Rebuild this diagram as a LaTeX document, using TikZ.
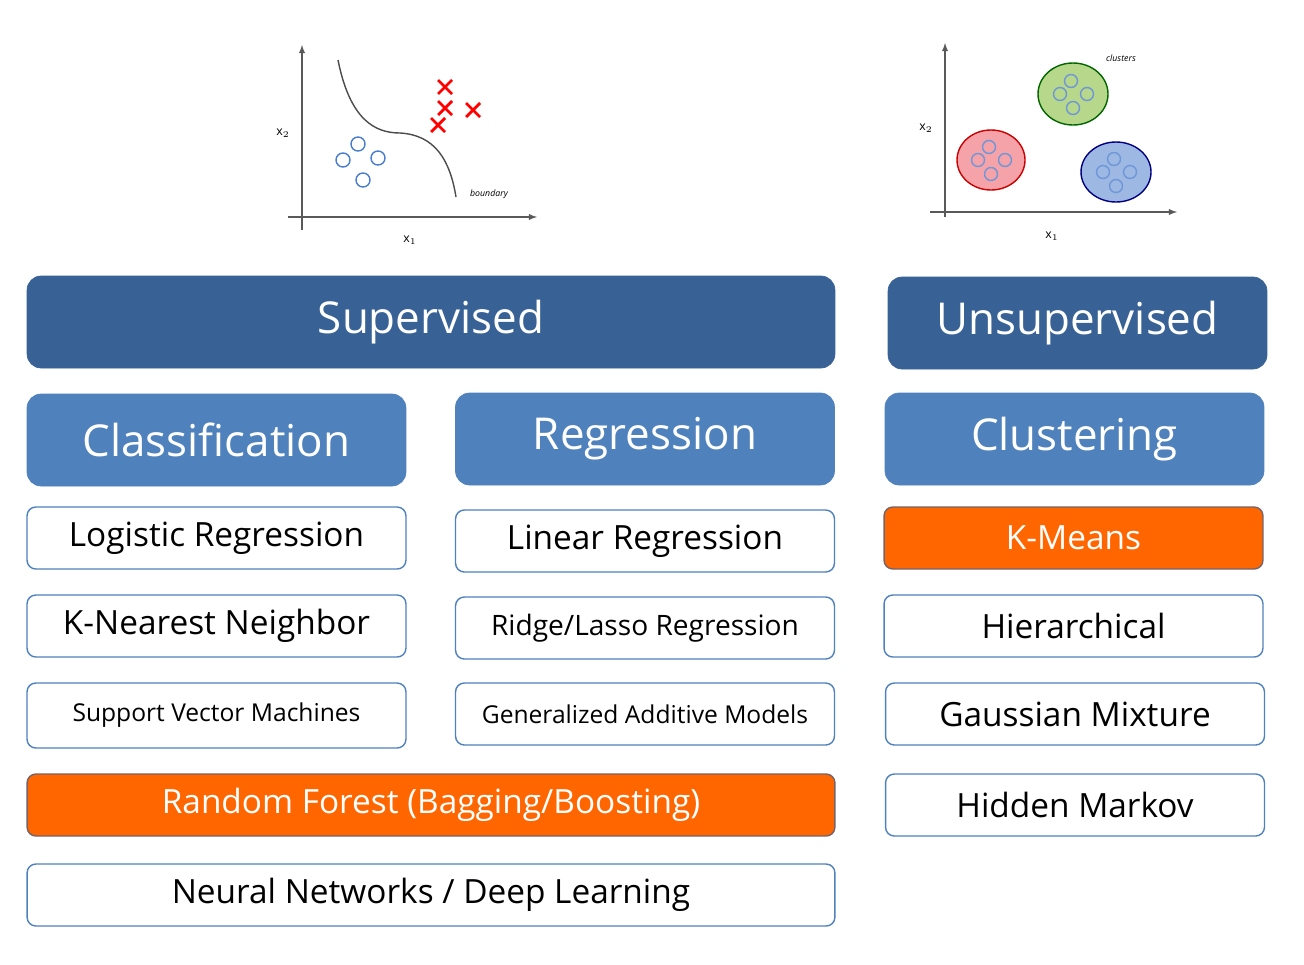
\documentclass[tikz,border=0pt]{standalone}
\usepackage{fontspec}
\setmainfont{Open Sans}
\definecolor{darkhead}{HTML}{386195}
\definecolor{subhead}{HTML}{4F81BD}
\definecolor{hilite}{HTML}{FF6600}
\definecolor{ptblue}{HTML}{4A7CD0}
\definecolor{clgreen}{HTML}{B7D88A}
\definecolor{clred}{HTML}{F5A3A8}
\definecolor{clblue}{HTML}{9DB8E3}
\tikzset{
  head/.style={draw=darkhead, fill=darkhead, rounded corners=8pt, text=white,
    font=\fontsize{25}{30}\selectfont, minimum height=1.84cm, inner sep=0pt},
  sub/.style={draw=subhead, fill=subhead, rounded corners=8pt, text=white,
    font=\fontsize{25}{30}\selectfont, minimum height=1.84cm, inner sep=0pt},
  item/.style={draw=subhead, fill=white, rounded corners=5pt, line width=0.8pt,
    font=\fontsize{19}{22}\selectfont, minimum height=1.24cm, inner sep=0pt},
  hot/.style={item, draw=darkhead!70!hilite, fill=hilite, text=white},
  narrow/.style={minimum width=7.58cm},
  wide/.style={minimum width=16.16cm},
  pt/.style={draw=ptblue, line width=0.8pt},
  axis/.style={draw=gray!70!black, line width=0.6pt, -latex},
}
\begin{document}
\begin{tikzpicture}[x=0.02cm,y=-0.02cm]
\useasboundingbox (0,0) rectangle (1304,964);
% headers
\node[head, minimum width=16.16cm] (sup) at (431,322) {Supervised};
\node[head, minimum width=7.58cm] (unsup) at (1077.5,323) {Unsupervised};
\node[sub, narrow] (cls) at (216.5,440) {Classification};
\node[sub, narrow] (reg) at (645,439) {Regression};
\node[sub, narrow] (clu) at (1074.5,439) {Clustering};
% classification column
\node[item, narrow] (logit) at (216.5,538) {Logistic Regression};
\node[item, narrow] (knn) at (216.5,626) {K-Nearest Neighbor};
\node[item, narrow, minimum height=1.3cm, font=\fontsize{14}{17}\selectfont] (svm) at (216.5,715.5) {Support Vector Machines};
% regression column
\node[item, narrow] (lin) at (645,541) {Linear Regression};
\node[item, narrow, font=\fontsize{16}{19}\selectfont] (ridge) at (645,628) {Ridge/Lasso Regression};
\node[item, narrow, font=\fontsize{14}{17}\selectfont] (gam) at (645,714) {Generalized Additive Models};
% spanning rows
\node[hot, wide] (rf) at (431,805) {Random Forest (Bagging/Boosting)};
\node[item, wide] (nn) at (431,895) {Neural Networks / Deep Learning};
% clustering column
\node[hot, narrow] (kmeans) at (1073.5,538) {K-Means};
\node[item, narrow] (hier) at (1073.5,626) {Hierarchical};
\node[item, narrow] (gmm) at (1075,714) {Gaussian Mixture};
\node[item, narrow] (hmm) at (1075,805) {Hidden Markov};
% classification sketch
\coordinate (cyb) at (302,230); \coordinate (cyt) at (302,45);
\coordinate (cxl) at (288,217); \coordinate (cxr) at (537,217);
\draw[axis] (cyb) -- (cyt);
\draw[axis] (cxl) -- (cxr);
\draw[gray!60!black, line width=0.8pt] (338,60) .. controls (350,120) and (375,133) .. (400,133)
  .. controls (435,135) and (450,160) .. (456,197);
\foreach \p in {(358,144),(343,160),(378,158),(363,180)}
  \draw[pt] \p circle (7);
\foreach \p in {(445,87),(445,108),(473,110),(438,125)}
  \draw[red, line width=1.6pt] \p +(-7,-7) -- +(7,7) \p +(-7,7) -- +(7,-7);
\node[font=\scriptsize] (cx2) at (283,133) {x$_2$};
\node[font=\scriptsize] (cx1) at (410,240) {x$_1$};
\node[font=\tiny\itshape] (bnd) at (489,194) {boundary};
% clustering sketch
\coordinate (uyb) at (945,217); \coordinate (uyt) at (945,43);
\coordinate (uxl) at (930,212); \coordinate (uxr) at (1177,212);
\draw[axis] (uyb) -- (uyt);
\draw[axis] (uxl) -- (uxr);
\draw[fill=clgreen, draw=green!40!black, line width=0.8pt] (1073,94) ellipse (35 and 31);
\draw[fill=clred, draw=red!80!black, line width=0.8pt] (991,160) ellipse (34 and 30);
\draw[fill=clblue, draw=blue!50!black, line width=0.8pt] (1116,172) ellipse (35 and 30);
\foreach \cx/\cy in {1073/94, 991/160, 1116/172}
  \foreach \dx/\dy in {-2/-13, -13/0, 14/0, 0/14}
    \draw[pt, draw=ptblue!80] (\cx+\dx,\cy+\dy) circle (6.5);
\node[font=\scriptsize] (ux2) at (926,128) {x$_2$};
\node[font=\scriptsize] (ux1) at (1052,236) {x$_1$};
\node[font=\tiny\itshape] (clus) at (1121,58) {clusters};
\end{tikzpicture}
\end{document}
